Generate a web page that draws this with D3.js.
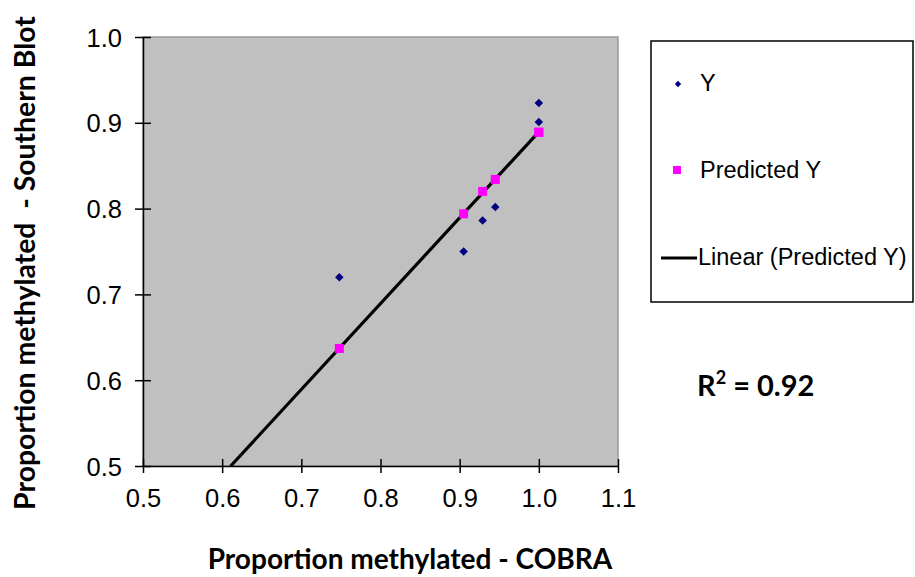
<!DOCTYPE html>
<html><head><meta charset="utf-8">
<script src="https://cdn.jsdelivr.net/npm/d3@7"></script>
<style>body{margin:0;background:#fff}svg{display:block}</style>
</head><body>
<svg id="c" width="915" height="577"></svg>
<script>
const cobra      = [0.748, 1.000, 1.000, 0.945, 0.929, 0.905];
const southern   = [0.720, 0.923, 0.901, 0.802, 0.786, 0.750];
const predicted  = [0.637, 0.889, 0.889, 0.834, 0.820, 0.794];
const xTicks = [0.5, 0.6, 0.7, 0.8, 0.9, 1.0, 1.1];
const yTicks = [0.5, 0.6, 0.7, 0.8, 0.9, 1.0];
const legendLabels = ["Y", "Predicted Y", "Linear (Predicted Y)"];
const r2Value = 0.92;

const svg = d3.select("#c");
const L = 143, R = 618, T = 37, B = 466;
const x = d3.scaleLinear().domain([0.5, 1.1]).range([L, R]);
const y = d3.scaleLinear().domain([0.5, 1.0]).range([B, T]);
const tickFont = "'Liberation Sans', Arial, sans-serif";
const boldFont = "Lato, 'Open Sans', sans-serif";

svg.append("rect").attr("x", L).attr("y", T).attr("width", R - L).attr("height", B - T)
  .attr("fill", "#c0c0c0").attr("stroke", "#9a9a9a").attr("stroke-width", 1.5);

svg.append("clipPath").attr("id", "pc").append("rect")
  .attr("x", L).attr("y", T).attr("width", R - L).attr("height", B - T);

// trendline (least squares on predicted)
const mx = d3.mean(cobra), my = d3.mean(predicted);
const b = d3.sum(cobra.map((v, i) => (v - mx) * (predicted[i] - my))) / d3.sum(cobra.map(v => (v - mx) ** 2));
const a = my - b * mx;
const x0 = (0.5 - a) / b, x1 = d3.max(cobra);
svg.append("line").attr("clip-path", "url(#pc)")
  .attr("x1", x(x0)).attr("y1", y(a + b * x0)).attr("x2", x(x1)).attr("y2", y(a + b * x1))
  .attr("stroke", "#000").attr("stroke-width", 3.2);

// predicted squares
svg.append("g").selectAll("rect").data(cobra).join("rect")
  .attr("x", (d) => x(d) - 4.5).attr("y", (d, i) => y(predicted[i]) - 4.5)
  .attr("width", 9).attr("height", 9).attr("fill", "#ff00ff");

// Y diamonds
const dia = d3.symbol().type(d3.symbolSquare).size(36);
svg.append("g").selectAll("path").data(cobra).join("path")
  .attr("d", dia).attr("transform", (d, i) => `translate(${x(d)},${y(southern[i])}) rotate(45)`)
  .attr("fill", "#000080");

// axes
const xa = svg.append("g").attr("transform", `translate(0,${B})`)
  .call(d3.axisBottom(x).tickValues(xTicks).tickFormat(d3.format(".1f")).tickSizeOuter(0));
xa.selectAll(".tick line").attr("y1", -7).attr("y2", 7).attr("stroke-width", 1.5);
xa.selectAll(".tick text").attr("y", 23).attr("dy", "0.71em").attr("font-size", 25.5).attr("font-family", tickFont).attr("fill", "#000");
xa.select(".domain").attr("stroke-width", 1.5);

const ya = svg.append("g").attr("transform", `translate(${L},0)`)
  .call(d3.axisLeft(y).tickValues(yTicks).tickFormat(d3.format(".1f")).tickSizeOuter(0));
ya.selectAll(".tick line").attr("x1", -8).attr("x2", 8).attr("stroke-width", 1.5);
ya.selectAll(".tick text").attr("x", -21).attr("dy", "0.36em").attr("font-size", 25.5).attr("font-family", tickFont).attr("fill", "#000");
ya.select(".domain").attr("stroke-width", 1.5);

// axis titles
function fit(sel, w) {
  const cur = sel.node().getComputedTextLength();
  const fs = parseFloat(sel.attr("font-size"));
  sel.attr("font-size", fs * w / cur);
}
const xt = svg.append("text").attr("x", 410).attr("y", 569).attr("text-anchor", "middle")
  .attr("font-family", boldFont).attr("font-weight", "bold").attr("font-size", 24)
  .text("Proportion methylated - COBRA");
fit(xt, 405);
const yt = svg.append("text").attr("transform", "translate(35,263) rotate(-90)").attr("text-anchor", "middle")
  .attr("font-family", boldFont).attr("font-weight", "bold").attr("font-size", 24)
  .attr("xml:space", "preserve").style("white-space", "pre")
  .text("Proportion methylated  - Southern Blot");
fit(yt, 494);

// legend
svg.append("rect").attr("x", 651).attr("y", 41).attr("width", 262).attr("height", 261)
  .attr("fill", "#fff").attr("stroke", "#000").attr("stroke-width", 1.5);
const lg = svg.append("g").attr("font-family", tickFont).attr("font-size", 23.5).attr("fill", "#000");
svg.append("path").attr("d", d3.symbol().type(d3.symbolSquare).size(20))
  .attr("transform", "translate(678,84) rotate(45)").attr("fill", "#000080");
svg.append("rect").attr("x", 673).attr("y", 166).attr("width", 8).attr("height", 8).attr("fill", "#ff00ff");
svg.append("line").attr("x1", 661).attr("x2", 697).attr("y1", 258).attr("y2", 258).attr("stroke", "#000").attr("stroke-width", 3);
lg.append("text").attr("x", 700).attr("y", 91).text(legendLabels[0]);
lg.append("text").attr("x", 700).attr("y", 178).text(legendLabels[1]);
lg.append("text").attr("x", 698).attr("y", 265).text(legendLabels[2]);

// R²
const rt = svg.append("text").attr("x", 697).attr("y", 396)
  .attr("font-family", boldFont).attr("font-weight", "bold").attr("font-size", 29);
rt.append("tspan").text("R");
rt.append("tspan").attr("font-size", 18).attr("dy", -12).text("2");
rt.append("tspan").attr("dy", 12).text(" = " + d3.format(".2f")(r2Value));
</script>
</body></html>
